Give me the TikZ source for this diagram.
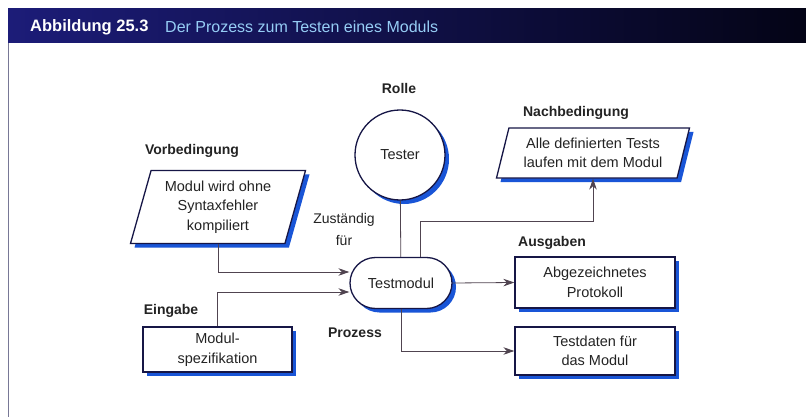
\documentclass[tikz,border=0pt]{standalone}
\usepackage{fontspec}
\setmainfont{Liberation Sans}
\usetikzlibrary{shapes.geometric,shapes.misc,shadows,arrows.meta}

\definecolor{barnavy}{RGB}{28,28,120}
\definecolor{barblack}{RGB}{4,4,22}
\definecolor{titleblue}{RGB}{150,205,245}
\definecolor{edge}{RGB}{22,22,70}
\definecolor{shade}{RGB}{25,85,215}
\definecolor{wire}{RGB}{80,68,80}
\definecolor{ink}{RGB}{35,35,35}
\definecolor{framegray}{RGB}{120,120,150}

\tikzset{
  shape base/.style={draw=edge, line width=1.3pt, fill=white, text=ink,
    font=\fontsize{14.5}{19.5}\selectfont, align=center, inner sep=2pt,
    drop shadow={shadow xshift=4pt, shadow yshift=-4pt, fill=shade, opacity=1}},
  box/.style={shape base, rectangle, minimum width=160pt, minimum height=51pt},
  para/.style={shape base, trapezium, trapezium left angle=70,
    trapezium right angle=110, trapezium stretches body},
  role/.style={shape base, circle, minimum size=90pt},
  stadium/.style={shape base, rounded rectangle, minimum width=106pt, minimum height=51pt},
  lbl/.style={text=ink, font=\bfseries\fontsize{14}{18}\selectfont, inner sep=0pt},
  plain/.style={text=ink, font=\fontsize{14}{22}\selectfont, align=center, inner sep=0pt},
  wireline/.style={draw=wire, line width=0.8pt},
  arr/.style={wireline, -{Stealth[length=11pt, width=7.5pt]}},
}

\begin{document}
\begin{tikzpicture}[x=1pt, y=-1pt]
  \useasboundingbox (0,0) rectangle (806,417);
  \fill[white] (0,0) rectangle (806,417);

  % title bar and frame
  \shade[left color=barnavy, right color=barblack] (8,9) rectangle (806,43);
  \draw[framegray, line width=0.8pt] (8,43) -- (8,417);
  \node[anchor=west, text=white, font=\bfseries\fontsize{16.5}{18}\selectfont, inner sep=0pt]
    (fig) at (30,27) {Abbildung 25.3};
  \node[anchor=west, text=titleblue, font=\fontsize{16}{18}\selectfont, inner sep=0pt]
    (caption) at (165,27) {Der Prozess zum Testen eines Moduls};

  % shapes
  \node[role] (tester) at (400,155) {Tester};
  \node[stadium] (tm) at (401,283) {Testmodul};
  \node[para, minimum width=175pt, minimum height=73pt] (vor) at (218,207)
    {Modul wird ohne\\Syntaxfehler\\kompiliert};
  \node[para, minimum width=193pt, minimum height=50pt] (nach) at (593,153)
    {Alle definierten Tests\\laufen mit dem Modul};
  \node[box, minimum width=149pt, minimum height=45pt] (spec) at (217.5,349.5)
    {Modul-\\spezifikation};
  \node[box] (proto) at (595,282.5) {Abgezeichnetes\\Protokoll};
  \node[box, minimum height=48pt] (daten) at (595,351) {Testdaten für\\das Modul};

  % labels
  \node[lbl] (rolle) at (399,88) {Rolle};
  \node[lbl] (nachlbl) at (576,113) {Nachbedingung};
  \node[lbl] (vorlbl) at (192,151) {Vorbedingung};
  \node[lbl] (auslbl) at (552,243) {Ausgaben};
  \node[lbl] (einlbl) at (171,311) {Eingabe};
  \node[lbl] (prozlbl) at (355,333) {Prozess};
  \node[plain] (zust) at (344,229) {Zuständig\\für};

  % connectors
  \draw[wireline] (tester) -- (tm);
  \draw[arr] ([xshift=19pt]tm.north) -- ++(0,-35) -| (nach.south);
  \draw[arr] (vor.south) |- ([yshift=11pt]tm.west);
  \draw[arr] (spec.north) |- ([yshift=-9pt]tm.west);
  \draw[arr] (tm.east) -- (proto.west);
  \draw[arr] (tm.south) |- (daten.west);
\end{tikzpicture}
\end{document}
